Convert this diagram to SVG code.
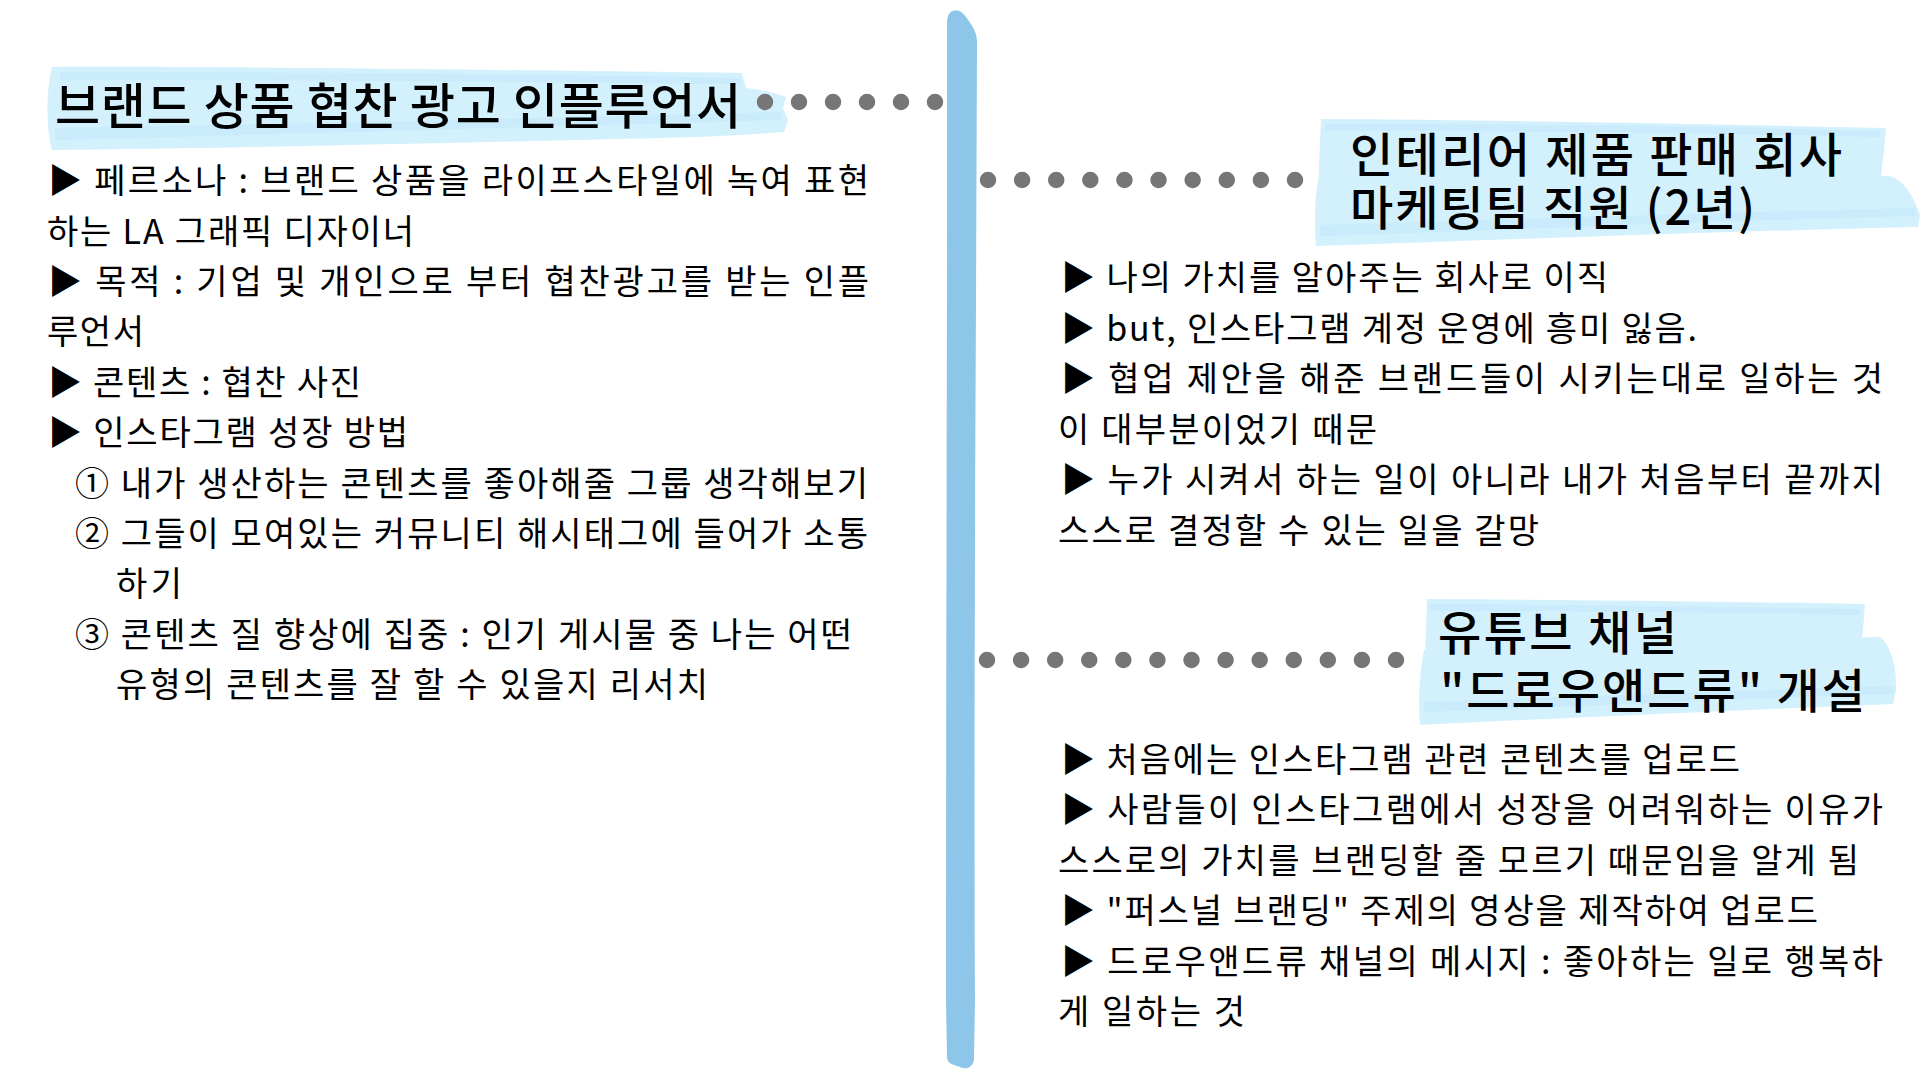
<svg xmlns="http://www.w3.org/2000/svg" width="1920" height="1080" viewBox="0 0 1920 1080">
<style>
.t{font-family:"Noto Sans CJK KR","Noto Sans",sans-serif;fill:#000}
.b{font-size:34px}
.h{font-size:47px;font-weight:500}
.ht{font-size:49px;font-weight:500}
.hl{fill:#D3F0FD}
.st{fill:#C3E8F9;opacity:.55}
.dots{stroke:#767676;stroke-width:16.5;stroke-linecap:round;fill:none}
</style>
<rect width="1920" height="1080" fill="#fff"/>
<g id="timeline">
<path d="M953,11 C958,9 962,12 966,17 C972,25 977,32 977,42 L976,300 C975,500 974,800 975,1000 L974,1060 C972,1068 966,1070 960,1067 C954,1065 948,1064 947,1058 L946,1000 C946,700 947,400 947,200 L947,24 C947,16 949,12 953,11 Z" fill="#8DC6E8"/>
</g>
<g id="node-brand">
<path class="hl" d="M52,67 C200,66 500,70 742,73 L746,88 C760,90 775,92 786,97 L783,108 L788,120 L784,132 C760,134 740,135 700,137 C500,142 250,148 52,150 C46,130 46,90 52,67 Z"/>
<path class="st" d="M60,72 C300,72 550,74 740,78 L742,84 C550,82 300,80 60,80 Z"/>
<path class="st" d="M55,128 C300,124 550,118 780,112 L782,120 C550,126 300,134 55,140 Z"/>
<text class="t ht" x="55" y="124" textLength="686" lengthAdjust="spacing">브랜드 상품 협찬 광고 인플루언서</text>
<g class="t b">
<text x="48" y="193" textLength="821" lengthAdjust="spacing">▶ 페르소나 : 브랜드 상품을 라이프스타일에 녹여 표현</text>
<text x="47" y="244" textLength="367" lengthAdjust="spacing">하는 LA 그래픽 디자이너</text>
<text x="48" y="294" textLength="821" lengthAdjust="spacing">▶ 목적 : 기업 및 개인으로 부터 협찬광고를 받는 인플</text>
<text x="47" y="344" textLength="97" lengthAdjust="spacing">루언서</text>
<text x="48" y="395" textLength="313" lengthAdjust="spacing">▶ 콘텐츠 : 협찬 사진</text>
<text x="48" y="445" textLength="360" lengthAdjust="spacing">▶ 인스타그램 성장 방법</text>
<text x="75" y="496" textLength="793" lengthAdjust="spacing">① 내가 생산하는 콘텐츠를 좋아해줄 그룹 생각해보기</text>
<text x="75" y="546" textLength="793" lengthAdjust="spacing">② 그들이 모여있는 커뮤니티 해시태그에 들어가 소통</text>
<text x="116" y="596" textLength="66" lengthAdjust="spacing">하기</text>
<text x="75" y="647" textLength="777" lengthAdjust="spacing">③ 콘텐츠 질 향상에 집중 : 인기 게시물 중 나는 어떤</text>
<text x="116" y="697" textLength="592" lengthAdjust="spacing">유형의 콘텐츠를 잘 할 수 있을지 리서치</text>
</g>
</g>
<g id="node-interior">
<path class="hl" d="M1321,119 C1500,120 1700,124 1886,128 L1884,150 L1880,184 C1700,180 1500,185 1318,192 Z"/>
<path class="hl" d="M1318,180 C1500,178 1700,175 1890,176 C1905,180 1915,200 1920,215 L1918,227 C1700,232 1500,240 1316,246 C1314,220 1315,200 1318,180 Z"/>
<path class="st" d="M1325,124 C1550,124 1750,127 1880,131 L1880,137 C1750,134 1550,131 1325,131 Z"/>
<path class="st" d="M1320,225 C1550,218 1750,212 1915,208 L1916,216 C1750,220 1550,228 1320,236 Z"/>
<text class="t h"><tspan x="1350" y="172" textLength="492" lengthAdjust="spacing">인테리어 제품 판매 회사</tspan><tspan x="1350" y="225" textLength="405" lengthAdjust="spacing">마케팅팀 직원 (2년)</tspan></text>
<g class="t b">
<text x="1061" y="290" textLength="547" lengthAdjust="spacing">▶ 나의 가치를 알아주는 회사로 이직</text>
<text x="1061" y="341" textLength="636" lengthAdjust="spacing">▶ but, 인스타그램 계정 운영에 흥미 잃음.</text>
<text x="1061" y="391" textLength="822" lengthAdjust="spacing">▶ 협업 제안을 해준 브랜드들이 시키는대로 일하는 것</text>
<text x="1058" y="442" textLength="319" lengthAdjust="spacing">이 대부분이었기 때문</text>
<text x="1061" y="492" textLength="822" lengthAdjust="spacing">▶ 누가 시켜서 하는 일이 아니라 내가 처음부터 끝까지</text>
<text x="1058" y="543" textLength="481" lengthAdjust="spacing">스스로 결정할 수 있는 일을 갈망</text>
</g>
</g>
<g id="node-youtube">
<path class="hl" d="M1427,599 C1600,600 1750,602 1865,604 L1863,630 L1861,649 C1700,652 1550,656 1425,660 Z"/>
<path class="hl" d="M1424,650 C1600,645 1750,640 1880,637 C1890,645 1897,665 1896,690 L1893,704 C1750,710 1600,716 1420,725 C1418,700 1420,670 1424,650 Z"/>
<path class="st" d="M1430,604 C1600,605 1750,607 1860,609 L1860,615 C1750,613 1600,611 1430,611 Z"/>
<path class="st" d="M1424,702 C1600,696 1750,690 1893,686 L1894,694 C1750,698 1600,706 1424,712 Z"/>
<text class="t h"><tspan x="1438" y="650" textLength="239" lengthAdjust="spacing">유튜브 채널</tspan><tspan x="1440" y="708" textLength="425" lengthAdjust="spacing">"드로우앤드류" 개설</tspan></text>
<g class="t b">
<text x="1061" y="772" textLength="679" lengthAdjust="spacing">▶ 처음에는 인스타그램 관련 콘텐츠를 업로드</text>
<text x="1061" y="822" textLength="822" lengthAdjust="spacing">▶ 사람들이 인스타그램에서 성장을 어려워하는 이유가</text>
<text x="1058" y="873" textLength="801" lengthAdjust="spacing">스스로의 가치를 브랜딩할 줄 모르기 때문임을 알게 됨</text>
<text x="1061" y="923" textLength="757" lengthAdjust="spacing">▶ "퍼스널 브랜딩" 주제의 영상을 제작하여 업로드</text>
<text x="1061" y="974" textLength="822" lengthAdjust="spacing">▶ 드로우앤드류 채널의 메시지 : 좋아하는 일로 행복하</text>
<text x="1058" y="1024" textLength="187" lengthAdjust="spacing">게 일하는 것</text>
</g>
</g>
<g id="connectors">
<line class="dots" x1="765" y1="102" x2="936" y2="102" stroke-dasharray="0 34"/>
<line class="dots" x1="988" y1="180" x2="1296" y2="180" stroke-dasharray="0 34.111"/>
<line class="dots" x1="987" y1="660" x2="1397" y2="660" stroke-dasharray="0 34.083"/>
</g>
</svg>
